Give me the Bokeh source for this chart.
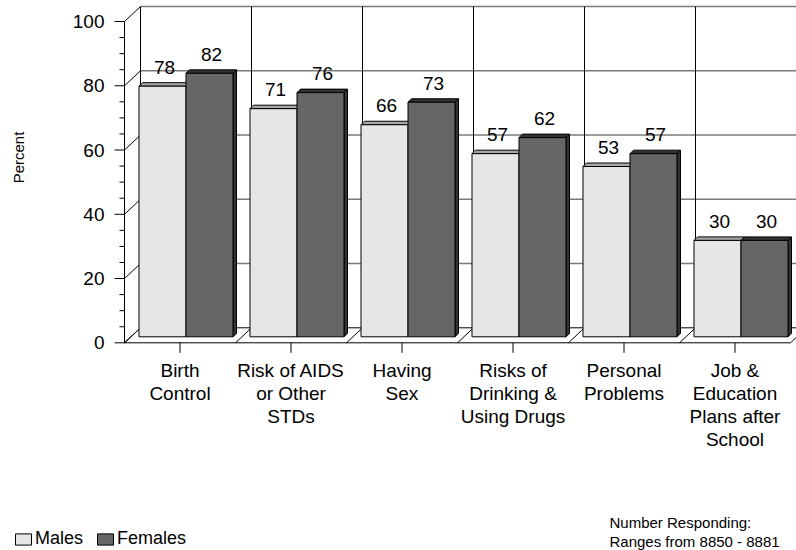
import numpy as np
from bokeh.plotting import figure
from bokeh.models import Range1d, Legend, LegendItem
from bokeh.core.properties import value
from bokeh.embed import file_html
from bokeh.resources import INLINE

# ---------------- data ----------------
categories = ["Birth\nControl", "Risk of AIDS\nor Other\nSTDs", "Having\nSex",
              "Risks of\nDrinking &\nUsing Drugs", "Personal\nProblems",
              "Job &\nEducation\nPlans after\nSchool"]
males = [78, 71, 66, 57, 53, 30]
females = [82, 76, 73, 62, 57, 30]
y_ticks = [0, 20, 40, 60, 80, 100]
y_tick_labels = ["0", "20", "40", "60", "80", "100"]
y_minor_step = 5
series_names = ["Males", "Females"]
note_lines = ["Number Responding:", "Ranges from 8850 - 8881"]
y_title = "Percent"

# ---------------- layout constants ----------------
FONT = "Liberation Sans"
W, H = 796, 550
OX, OY = 124.0, 342.3      # screen position of the front origin (0 %)
PX_X = 111.0               # px per category
PX_Y = 3.213               # px per percent


def ux(px):
    return px / PX_X


def uy(px):
    return px / PX_Y


def sxu(sx):              # screen x -> data x
    return (sx - OX) / PX_X


def syu(sy):              # screen y -> data y
    return (OY - sy) / PX_Y


DX, DY = ux(16), uy(15)        # wall depth
BDX, BDY = ux(6), uy(6)        # bar front offset
DDX, DDY = ux(3.5), uy(3.5)    # bar depth
BW = ux(47)                    # bar width

n = len(categories)
idx = np.arange(n)
ymax = y_ticks[-1]

p = figure(width=W, height=H, output_backend="svg", toolbar_location=None,
           x_range=Range1d(sxu(0), sxu(W)), y_range=Range1d(syu(H), syu(0)),
           x_axis_type=None, y_axis_type=None,
           min_border_left=0, min_border_right=0, min_border_top=0,
           min_border_bottom=0)
p.outline_line_color = None
p.background_fill_color = "white"
p.border_fill_color = "white"

# ---------------- walls / floor ----------------
grid_vals = [v for v in y_ticks if v > 0]
p.multi_line(xs=[[DX, n + DX] for v in grid_vals],
             ys=[[v + DY, v + DY] for v in grid_vals],
             line_color="#7a7a7a", line_width=1.6)
p.multi_line(xs=[[k + DX, k + DX] for k in range(n + 1)],
             ys=[[DY, ymax + DY] for k in range(n + 1)],
             line_color="black", line_width=1)
p.multi_line(xs=[[0, DX] for v in y_ticks],
             ys=[[v, v + DY] for v in y_ticks],
             line_color="black", line_width=1)
p.multi_line(xs=[[k, k + DX] for k in range(n + 1)],
             ys=[[0, DY] for k in range(n + 1)],
             line_color="black", line_width=1)
p.line(x=[DX, n + DX], y=[DY, DY], line_color="black", line_width=1)

# ---------------- bars ----------------
m_x0 = idx + 0.5 - BW + BDX
m_x1 = idx + 0.5 + BDX
f_x0 = m_x1
f_x1 = m_x1 + BW


def draw_bar(x0, x1, vals, front, top, side):
    vals = np.asarray(vals, dtype=float)
    p.patches(xs=[[a, a + DDX, a + DDX, a] for a in x1],
              ys=[[BDY, BDY + DDY, v + BDY + DDY, v + BDY] for v in vals],
              fill_color=side, line_color="black", line_width=1)
    p.patches(xs=[[a, b, b + DDX, a + DDX] for a, b in zip(x0, x1)],
              ys=[[v + BDY, v + BDY, v + BDY + DDY, v + BDY + DDY] for v in vals],
              fill_color=top, line_color="black", line_width=1)
    r = p.quad(left=x0, right=x1, bottom=BDY, top=vals + BDY,
               fill_color=front, line_color="black", line_width=1)
    p.text(x=(x0 + x1) / 2 + ux(2), y=vals + BDY + uy(19),
           text=[str(int(v)) for v in vals],
           text_align="center", text_baseline="middle",
           text_font=value(FONT), text_font_size="19px", text_color="black")
    return r


r_m = draw_bar(m_x0, m_x1, males, "#e6e6e6", "#a8a8a8", "#a8a8a8")
r_f = draw_bar(f_x0, f_x1, females, "#666666", "#333333", "#333333")

# ---------------- value axis (front) ----------------
p.line(x=[0, 0], y=[y_ticks[0], ymax], line_color="black", line_width=1)
p.segment(x0=[ux(-10)] * len(y_ticks), y0=y_ticks, x1=[0] * len(y_ticks), y1=y_ticks,
          line_color="black", line_width=1)
minor = [v for v in range(y_ticks[0], ymax + 1, y_minor_step) if v not in y_ticks]
p.segment(x0=[ux(-5)] * len(minor), y0=minor, x1=[0] * len(minor), y1=minor,
          line_color="black", line_width=1)
p.text(x=[ux(-20)] * len(y_ticks), y=y_ticks, text=y_tick_labels,
       text_align="right", text_baseline="middle",
       text_font=value(FONT), text_font_size="19px", text_color="black")
p.text(x=[sxu(18)], y=[syu(157)], text=[y_title], angle=np.pi / 2,
       text_align="center", text_baseline="middle",
       text_font=value(FONT), text_font_size="15px", text_color="black")

# ---------------- category axis (front floor edge) ----------------
p.line(x=[0, n], y=[0, 0], line_color="black", line_width=1)
centers = idx + 0.5
p.segment(x0=centers, y0=[0] * n, x1=centers, y1=[uy(-10)] * n,
          line_color="black", line_width=1)
p.text(x=centers, y=[uy(-17)] * n, text=categories,
       text_align="center", text_baseline="top", text_line_height=1.1,
       text_font=value(FONT), text_font_size="19px", text_color="black")

# ---------------- legend / note ----------------
legend = Legend(items=[LegendItem(label=series_names[0], renderers=[r_m]),
                       LegendItem(label=series_names[1], renderers=[r_f])],
                orientation="horizontal", location=(13, 1),
                border_line_color=None, background_fill_alpha=0,
                padding=0, margin=0, spacing=12, glyph_width=20, glyph_height=14,
                label_standoff=2, label_text_font=FONT, label_text_font_size="18px",
                label_text_color="black")
p.add_layout(legend)

p.text(x=[sxu(609)] * len(note_lines), y=[syu(521.7), syu(540.7)], text=note_lines,
       text_align="left", text_baseline="middle",
       text_font=value(FONT), text_font_size="15px", text_color="black")

open("out.html", "w").write(file_html(p, INLINE))
